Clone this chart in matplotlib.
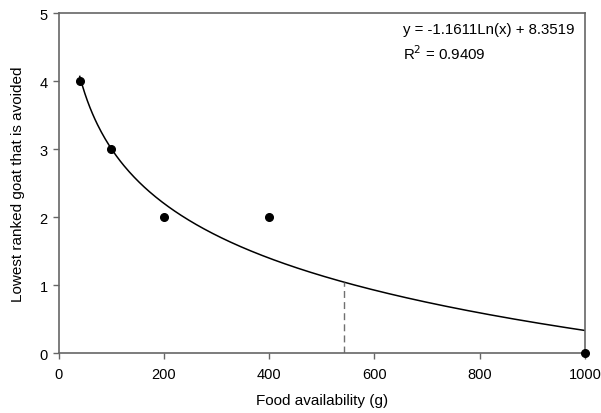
import numpy as np
import matplotlib
matplotlib.use("Agg")
import matplotlib.pyplot as plt

plt.rcParams['font.family'] = ['Liberation Sans', 'DejaVu Sans']

# observed points
food = [40, 100, 200, 400, 1000]
rank = [4, 3, 2, 2, 0]

# log fit y = a*ln(x) + b
a = -1.1611
b = 8.3519
r2 = 0.9409
x_cut = 542

fig = plt.figure(figsize=(6.01, 4.14), dpi=100)
ax = fig.add_axes([0.0977, 0.1449, 0.8757, 0.8211])

xs = np.linspace(40, 1000, 400)
ax.plot(xs, a * np.log(xs) + b, color='black', lw=1.1)
ax.plot(food, rank, 'o', color='black', markersize=5.5, clip_on=False, zorder=5)
ax.plot([x_cut, x_cut], [0, a * np.log(x_cut) + b], color='#707070', lw=1, dashes=(5, 3))

ax.set_xlim(0, 1000)
ax.set_ylim(0, 5)
ax.set_xticks([0, 200, 400, 600, 800, 1000])
ax.set_yticks([0, 1, 2, 3, 4, 5])
for s in ax.spines.values():
    s.set_color('#666666')
    s.set_linewidth(1.2)
ax.tick_params(direction='out', length=4, width=1, color='#666666', labelsize=10.5, pad=4)
ax.tick_params(axis='x', pad=6)

ax.set_xlabel('Food availability (g)', fontsize=11, labelpad=9)
ax.set_ylabel('Lowest ranked goat that is avoided', fontsize=11, labelpad=10)

ax.text(0.655, 0.975, f'y = {a}Ln(x) + {b}', transform=ax.transAxes, fontsize=10.8, va='top')
ax.text(0.655, 0.91, f'R$^2$ = {r2}', transform=ax.transAxes, fontsize=10.8, va='top')

fig.savefig('out.png', dpi=100)
